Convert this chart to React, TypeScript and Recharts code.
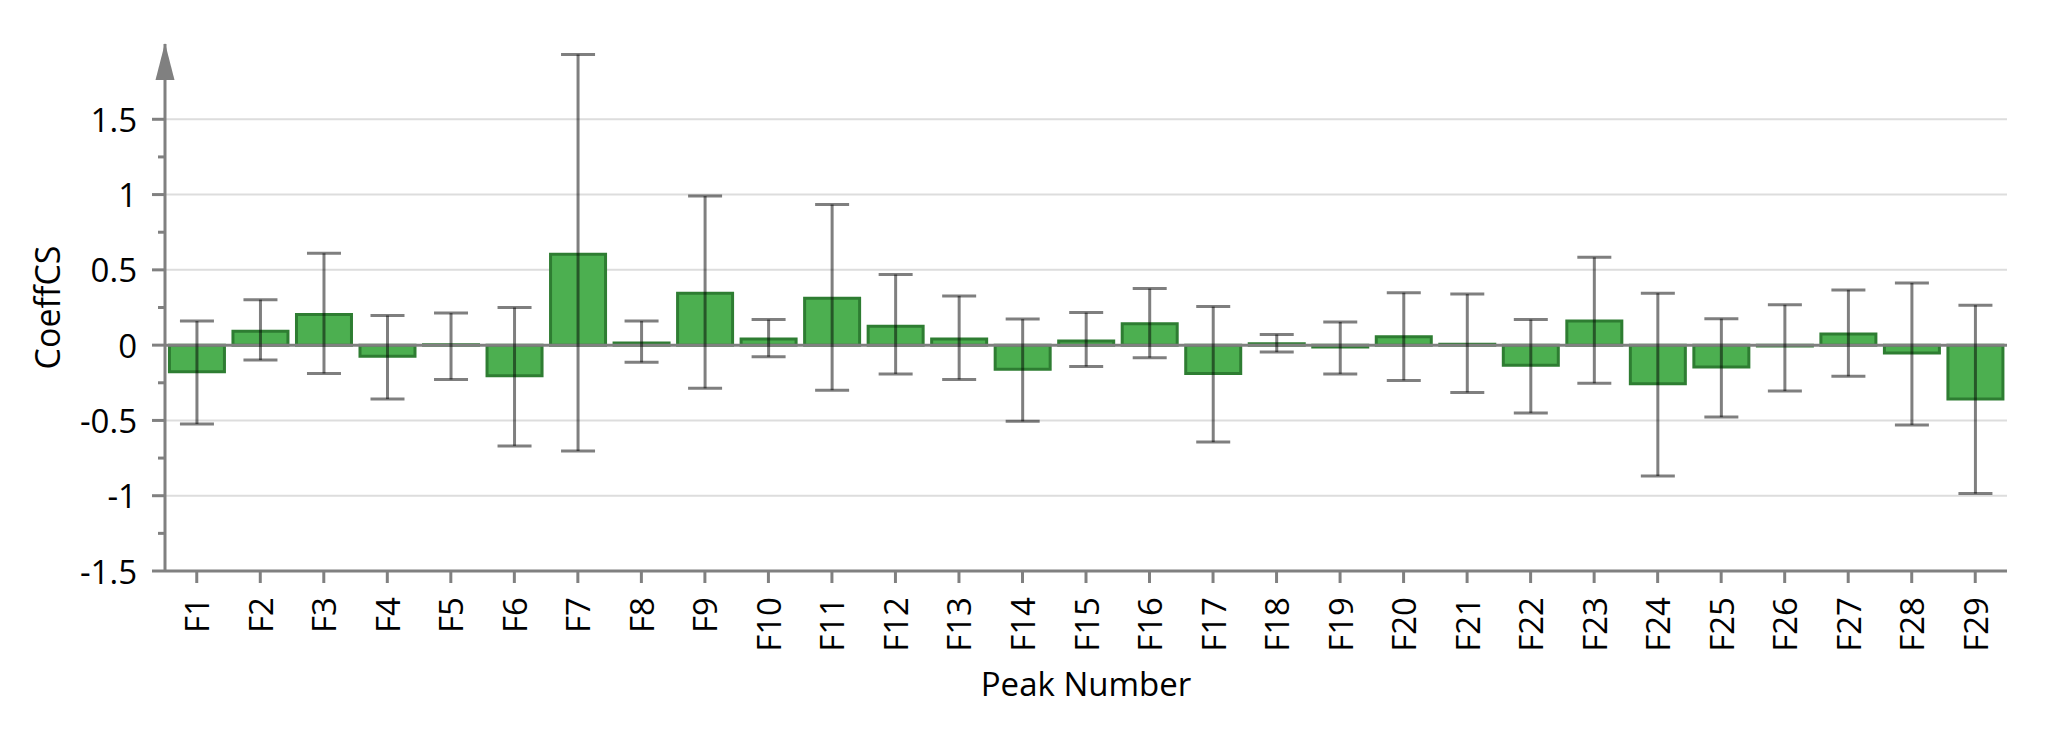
import React from 'react';
import { BarChart, Bar, XAxis, YAxis, CartesianGrid, ErrorBar, ReferenceLine, Label } from 'recharts';

const categories = ['F1','F2','F3','F4','F5','F6','F7','F8','F9','F10','F11','F12','F13','F14','F15','F16','F17','F18','F19','F20','F21','F22','F23','F24','F25','F26','F27','F28','F29'];
const coeff = [-0.176, 0.092, 0.203, -0.074, 0.002, -0.203, 0.604, 0.015, 0.345, 0.04, 0.311, 0.126, 0.04, -0.16, 0.028, 0.142, -0.188, 0.01, -0.012, 0.055, 0.006, -0.133, 0.16, -0.256, -0.145, -0.006, 0.074, -0.052, -0.358];
const errHigh = [0.16, 0.302, 0.61, 0.197, 0.213, 0.25, 1.93, 0.16, 0.99, 0.17, 0.934, 0.469, 0.327, 0.173, 0.216, 0.376, 0.256, 0.071, 0.154, 0.348, 0.339, 0.17, 0.583, 0.345, 0.176, 0.268, 0.367, 0.413, 0.265];
const errLow = [-0.524, -0.099, -0.188, -0.358, -0.228, -0.669, -0.703, -0.114, -0.287, -0.077, -0.299, -0.191, -0.228, -0.506, -0.142, -0.083, -0.644, -0.046, -0.191, -0.234, -0.314, -0.45, -0.253, -0.869, -0.478, -0.305, -0.207, -0.53, -0.986];
const yTicks = [-1.5, -1.25, -1, -0.75, -0.5, -0.25, 0, 0.25, 0.5, 0.75, 1, 1.25, 1.5, 2];
const gridValues = [-1, -0.5, 0.5, 1, 1.5];

const data = categories.map((name, i) => ({
  name,
  value: coeff[i],
  err: [coeff[i] - errLow[i], errHigh[i] - coeff[i]],
}));

const FONT = '"Open Sans", "Noto Sans", sans-serif';
const AXIS = '#808080';

const YTick = (props: any) => {
  const { x, y, payload } = props;
  const v = payload.value;
  if (v === 2) {
    return <polygon points={`${x},${y - 1} ${x - 9.5},${y + 36} ${x + 9.5},${y + 36}`} fill={AXIS} />;
  }
  const major = Math.abs(v * 2 - Math.round(v * 2)) < 1e-6;
  return (
    <g>
      <line x1={x - (major ? 13 : 7)} x2={x} y1={y} y2={y} stroke={AXIS} strokeWidth={3} />
      {major && (
        <text x={x - 28} y={y} textAnchor="end" dominantBaseline="central" fontFamily={FONT} fontSize={33} fill="#000">
          {String(v)}
        </text>
      )}
    </g>
  );
};

const XTick = (props: any) => {
  const { x, y, payload } = props;
  return (
    <text x={x} y={y} transform={`rotate(-90, ${x}, ${y})`} textAnchor="end" dominantBaseline="central" fontFamily={FONT} fontSize={33} fill="#000">
      {payload.value}
    </text>
  );
};

export default function App() {
  return (
    <div style={{ position: 'absolute', left: 0, top: 0, background: '#fff' }}>
      <BarChart width={2048} height={730} data={data} margin={{ top: 44, right: 41, left: 0, bottom: 0 }} barCategoryGap="7%">
        <CartesianGrid vertical={false} horizontalValues={gridValues} stroke="#dddddd" strokeWidth={2} />
        <ReferenceLine y={0} stroke={AXIS} strokeWidth={3} />
        <XAxis
          dataKey="name"
          height={159}
          interval={0}
          tickSize={12}
          tickMargin={14}
          tickLine={{ stroke: AXIS, strokeWidth: 3 }}
          axisLine={{ stroke: AXIS, strokeWidth: 3 }}
          tick={<XTick />}
        >
          <Label
            content={(p: any) => {
              const vb = p.viewBox;
              return (
                <text x={vb.x + vb.width / 2} y={vb.y + 125} textAnchor="middle" fontFamily={FONT} fontSize={33} fill="#000">
                  Peak Number
                </text>
              );
            }}
          />
        </XAxis>
        <YAxis
          type="number"
          domain={[-1.5, 2]}
          ticks={yTicks}
          interval={0}
          width={165}
          tickSize={0}
          tickMargin={0}
          tickLine={false}
          axisLine={{ stroke: AXIS, strokeWidth: 3 }}
          tick={<YTick />}
          allowDataOverflow
        >
          <Label
            content={(p: any) => {
              const vb = p.viewBox;
              const cy = vb.y + vb.height / 2;
              return (
                <text x={47} y={cy} transform={`rotate(-90, 47, ${cy})`} textAnchor="middle" dominantBaseline="central" fontFamily={FONT} fontSize={34} fill="#000">
                  CoeffCS
                </text>
              );
            }}
          />
        </YAxis>
        <Bar dataKey="value" fill="#4caf50" stroke="#2e7d32" strokeWidth={3} isAnimationActive={false}>
          <ErrorBar dataKey="err" width={17} stroke="rgba(0,0,0,0.5)" strokeWidth={3} isAnimationActive={false} />
        </Bar>
      </BarChart>
    </div>
  );
}
